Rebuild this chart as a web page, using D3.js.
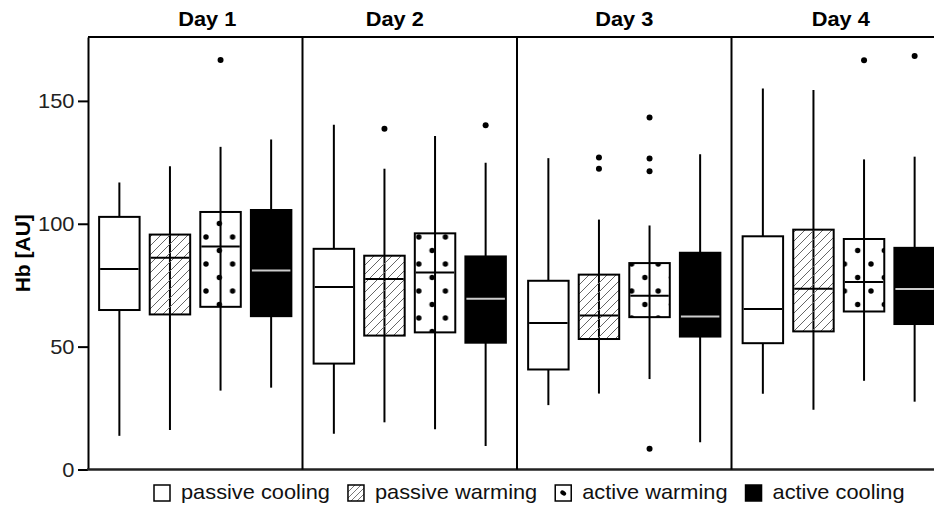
<!DOCTYPE html>
<html>
<head>
<meta charset="utf-8">
<script src="https://cdn.jsdelivr.net/npm/d3@7"></script>
<style>
  body { margin: 0; background: #fff; }
  text { font-family: "Liberation Sans", Arial, sans-serif; }
</style>
</head>
<body>
<script>
// categories
const days = ["Day 1", "Day 2", "Day 3", "Day 4"];
const groups = ["passive cooling", "passive warming", "active warming", "active cooling"];
const yTicks = [0, 50, 100, 150];

// box statistics, one row per day, one column per group
const lowWhisker  = [[13.7, 16.1, 32.1, 33.3], [14.5, 19.2, 16.4, 9.6],  [26.2, 30.9, 36.8, 11.1], [30.8, 24.3, 36.1, 27.6]];
const q1          = [[64.9, 63.1, 66.2, 62.4], [43.1, 54.5, 55.8, 51.6], [40.7, 53.1, 62.0, 54.1], [51.4, 56.2, 64.3, 59.2]];
const median      = [[81.6, 86.2, 90.7, 81.0], [74.3, 77.5, 80.2, 69.5], [59.6, 62.7, 70.7, 62.3], [65.3, 73.6, 76.3, 73.5]];
const q3          = [[102.8, 95.6, 104.8, 105.6], [89.8, 87.0, 96.1, 86.7], [76.8, 79.3, 84.0, 88.2], [94.9, 97.6, 93.8, 90.2]];
const highWhisker = [[116.8, 123.4, 131.3, 134.3], [140.3, 122.4, 135.7, 124.8], [126.7, 101.7, 99.3, 128.3], [155.0, 154.4, 126.2, 127.3]];

// outliers: [day index, group index, value]
const outliers = [
  [0, 2, 166.6],
  [1, 1, 138.7], [1, 3, 140.1],
  [2, 1, 127.0], [2, 1, 122.4],
  [2, 2, 143.2], [2, 2, 126.6], [2, 2, 121.4], [2, 2, 8.4],
  [3, 2, 166.5], [3, 3, 168.3]
];

// layout
const W = 934, H = 507;
const plot = {left: 88, right: 946, top: 37, bottom: 469.5};
const stretch = 1.09;               // the reference text is a little wide
const titleNudge = [12, -15, 0, 2];

const svg = d3.select("body").append("svg")
    .attr("width", W)
    .attr("height", H);

// patterns
const defs = svg.append("defs");
const hatch = defs.append("pattern")
    .attr("id", "hatch")
    .attr("patternUnits", "userSpaceOnUse")
    .attr("width", 9).attr("height", 9);
hatch.append("path")
    .attr("d", "M-2,2 L2,-2 M0,9 L9,0 M7,11 L11,7")
    .attr("stroke", "#666")
    .attr("stroke-width", 1);

const dots = defs.append("pattern")
    .attr("id", "dots")
    .attr("patternUnits", "userSpaceOnUse")
    .attr("x", 206).attr("y", 237)
    .attr("width", 26.6).attr("height", 27);
[[0, 0], [26.6, 0], [0, 27], [26.6, 27], [13.3, 13.5]].forEach(function(p) {
  dots.append("circle").attr("cx", p[0]).attr("cy", p[1]).attr("r", 2.7).attr("fill", "#000");
});

const fills = ["#fff", "url(#hatch)", "url(#dots)", "#000"];
const medianColor = ["#000", "#000", "#000", "#ccc"];

// scales
const x = d3.scaleBand()
    .domain(days)
    .range([plot.left, plot.right]);

const xIn = d3.scaleBand()
    .domain(groups)
    .range([0, x.bandwidth()])
    .paddingInner(0.2)
    .paddingOuter(0.22);

const y = d3.scaleLinear()
    .domain([0, 176])
    .range([plot.bottom, plot.top]);

// y axis
const yAxis = svg.append("g")
    .attr("transform", "translate(" + plot.left + ",0)")
    .call(d3.axisLeft(y).tickValues(yTicks).tickSize(10).tickSizeOuter(0).tickPadding(3));
yAxis.select(".domain").attr("stroke-width", 2);
yAxis.selectAll(".tick line").attr("stroke-width", 2);
yAxis.selectAll(".tick text")
    .attr("font-size", 21)
    .attr("font-family", "'Liberation Sans', Arial, sans-serif")
    .attr("fill", "#222")
    .attr("transform", "scale(1.04,1)");

svg.append("text")
    .attr("transform", "translate(30," + (plot.top + plot.bottom) / 2 + ") rotate(-90)")
    .attr("text-anchor", "middle")
    .attr("font-size", 21)
    .attr("font-weight", "bold")
    .text("Hb [AU]");

// frame: top, bottom and panel dividers
svg.append("line")
    .attr("x1", plot.left).attr("x2", W)
    .attr("y1", plot.top).attr("y2", plot.top)
    .attr("stroke", "#000").attr("stroke-width", 2);
svg.append("line")
    .attr("x1", plot.left - 1).attr("x2", W)
    .attr("y1", plot.bottom).attr("y2", plot.bottom)
    .attr("stroke", "#222").attr("stroke-width", 2.5);
svg.selectAll(".divider")
    .data(days.slice(1))
    .join("line")
    .attr("class", "divider")
    .attr("x1", d => x(d)).attr("x2", d => x(d))
    .attr("y1", plot.top).attr("y2", plot.bottom)
    .attr("stroke", "#000").attr("stroke-width", 2);

// day titles
svg.selectAll(".day")
    .data(days)
    .join("text")
    .attr("class", "day")
    .attr("transform", (d, i) => "translate(" + (x(d) + x.bandwidth() / 2 + titleNudge[i]) + ",26) scale(" + stretch + ",1)")
    .attr("text-anchor", "middle")
    .attr("font-size", 20)
    .attr("font-weight", "bold")
    .text(d => d);

// boxes
const boxes = [];
days.forEach(function(day, di) {
  groups.forEach(function(g, gi) {
    boxes.push({
      day: day, group: g, gi: gi,
      lo: lowWhisker[di][gi], q1: q1[di][gi], med: median[di][gi],
      q3: q3[di][gi], hi: highWhisker[di][gi]
    });
  });
});

const cx = d => x(d.day) + xIn(d.group) + xIn.bandwidth() / 2;

const box = svg.selectAll(".box")
    .data(boxes)
    .join("g")
    .attr("class", "box");

box.append("line")
    .attr("x1", cx).attr("x2", cx)
    .attr("y1", d => y(d.lo)).attr("y2", d => y(d.hi))
    .attr("stroke", "#000").attr("stroke-width", 2);

box.append("rect")
    .attr("x", d => x(d.day) + xIn(d.group))
    .attr("y", d => y(d.q3))
    .attr("width", xIn.bandwidth())
    .attr("height", d => y(d.q1) - y(d.q3))
    .attr("fill", d => fills[d.gi])
    .attr("stroke", "#000")
    .attr("stroke-width", 2);

box.append("line")
    .attr("x1", d => x(d.day) + xIn(d.group) + 1)
    .attr("x2", d => x(d.day) + xIn(d.group) + xIn.bandwidth() - 1)
    .attr("y1", d => y(d.med)).attr("y2", d => y(d.med))
    .attr("stroke", d => medianColor[d.gi])
    .attr("stroke-width", 2);

// outliers
svg.selectAll(".outlier")
    .data(outliers)
    .join("circle")
    .attr("class", "outlier")
    .attr("cx", d => x(days[d[0]]) + xIn(groups[d[1]]) + xIn.bandwidth() / 2)
    .attr("cy", d => y(d[2]))
    .attr("r", 3)
    .attr("fill", "#000");

// legend
const legendHatch = defs.append("pattern")
    .attr("id", "legendHatch")
    .attr("patternUnits", "userSpaceOnUse")
    .attr("width", 6).attr("height", 6);
legendHatch.append("path")
    .attr("d", "M-1,1 L1,-1 M0,6 L6,0 M5,7 L7,5")
    .attr("stroke", "#555")
    .attr("stroke-width", 0.8);

const legend = svg.append("g");
let lx = 154;
groups.forEach(function(g, i) {
  const item = legend.append("g");
  item.append("rect")
      .attr("x", lx).attr("y", 485)
      .attr("width", 16).attr("height", 16)
      .attr("fill", i == 1 ? "url(#legendHatch)" : (i == 3 ? "#000" : "#fff"))
      .attr("stroke", "#000")
      .attr("stroke-width", 1.5);
  if (i == 2) {
    item.append("ellipse")
        .attr("cx", lx + 8).attr("cy", 493)
        .attr("rx", 3.2).attr("ry", 2.2)
        .attr("transform", "rotate(35," + (lx + 8) + ",493)")
        .attr("fill", "#000");
  }
  const t = item.append("text")
      .attr("transform", "translate(" + (lx + 27) + ",499) scale(" + stretch + ",1)")
      .attr("font-size", 20)
      .attr("fill", "#111")
      .text(g);
  lx += 27 + t.node().getComputedTextLength() * stretch + 18;
});
</script>
</body>
</html>
